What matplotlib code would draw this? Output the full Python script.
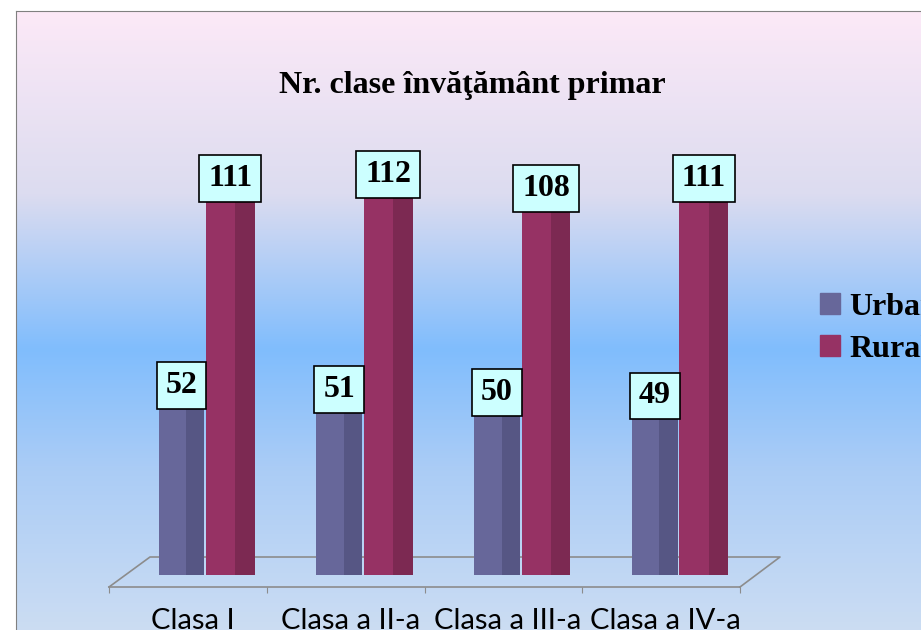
import numpy as np
import matplotlib
matplotlib.use("Agg")
import matplotlib.pyplot as plt
from matplotlib.colors import LinearSegmentedColormap
from matplotlib.patches import Patch

# Data
categories = ["Clasa I", "Clasa a II-a", "Clasa a III-a", "Clasa a IV-a"]
urban = [52, 51, 50, 49]
rural = [111, 112, 108, 111]
title = "Nr. clase învăţământ primar"

W, H = 921, 630
fig = plt.figure(figsize=(W / 100, H / 100), dpi=100)
fig.patch.set_facecolor("white")

# background chart area with vertical gradient
bg = fig.add_axes([16 / W, -0.05, 1.0, 619 / H + 0.05], zorder=0)
grad = LinearSegmentedColormap.from_list(
    "bg", [(0.0, "#D2E0F2"), (0.30, "#AACCF6"), (0.48, "#80BDFD"),
           (0.72, "#DCDCF0"), (1.0, "#FCE9F7")])
bg.imshow(np.linspace(0, 1, 256).reshape(-1, 1), cmap=grad, aspect="auto",
          origin="lower", extent=[0, 1, 0, 1])
bg.set_xticks([])
bg.set_yticks([])
for s in bg.spines.values():
    s.set_color("#808080")

serif = "Liberation Serif"

# main axes
ax = fig.add_axes([109 / W, 43 / H, 631 / W, 488 / H], zorder=1)
ax.patch.set_alpha(0)
ax.set_xlim(0, 4)
ax.set_ylim(-3.5, 140)

x = np.arange(len(categories))
urb_col, urb_dark = "#67679A", "#565684"
rur_col, rur_dark = "#963264", "#7C2952"
wu, wr = 0.29, 0.31
xu = x + 0.46
xr = x + 0.77

# floor (back edge behind the bars)
px = lambda a, b: (a / W, 1 - b / H)
floor = [px(109, 587), px(150, 557), px(780, 557), px(740, 587)]
fx, fy = zip(*floor)
fig.add_artist(plt.Line2D(fx, fy, color="#8C8C8C", lw=1.2, zorder=0.5))

ax.bar(xu, urban, wu, color=urb_col, zorder=2)
ax.bar(xu + wu * 0.3, urban, wu * 0.4, color=urb_dark, zorder=2)
ax.bar(xr, rural, wr, color=rur_col, zorder=3)
ax.bar(xr + wr * 0.3, rural, wr * 0.4, color=rur_dark, zorder=3)

box = dict(boxstyle="square,pad=0.28", fc="#CCFFFF", ec="black", lw=1.2)
for i in range(len(categories)):
    ax.annotate(str(urban[i]), (xu[i], urban[i]), xytext=(0, 9),
                textcoords="offset points", ha="center", va="center",
                fontsize=23, fontweight="bold", family=serif, bbox=box, zorder=5)
    ax.annotate(str(rural[i]), (xr[i], rural[i]), xytext=(0, 14),
                textcoords="offset points", ha="center", va="center",
                fontsize=23, fontweight="bold", family=serif, bbox=box, zorder=5)

for s in ["top", "right", "left"]:
    ax.spines[s].set_visible(False)
ax.spines["bottom"].set_color("#8C8C8C")
ax.spines["bottom"].set_linewidth(1.2)
ax.set_yticks([])
ax.set_xticks(np.arange(5))
ax.set_xticklabels([])
ax.tick_params(axis="x", which="major", length=4, color="#8C8C8C", direction="out")
ax.set_xticks(x + 0.53, minor=True)
ax.set_xticklabels(categories, minor=True, fontsize=21, family="Lato")
ax.tick_params(axis="x", which="minor", length=0, pad=15)

fig.text(472 / W, 1 - 85 / H, title, ha="center", va="center",
         fontsize=23, fontweight="bold", family=serif)

handles = [Patch(color=urb_col, label="Urban"), Patch(color=rur_col, label="Rural")]
fig.legend(handles=handles, loc="upper left", bbox_to_anchor=(807 / W, 1 - 280 / H),
           frameon=False, prop=dict(family=serif, weight="bold", size=23),
           handlelength=0.62, handleheight=0.62, handletextpad=0.3, labelspacing=0.4,
           borderaxespad=0)

fig.savefig("out.png", dpi=100)
